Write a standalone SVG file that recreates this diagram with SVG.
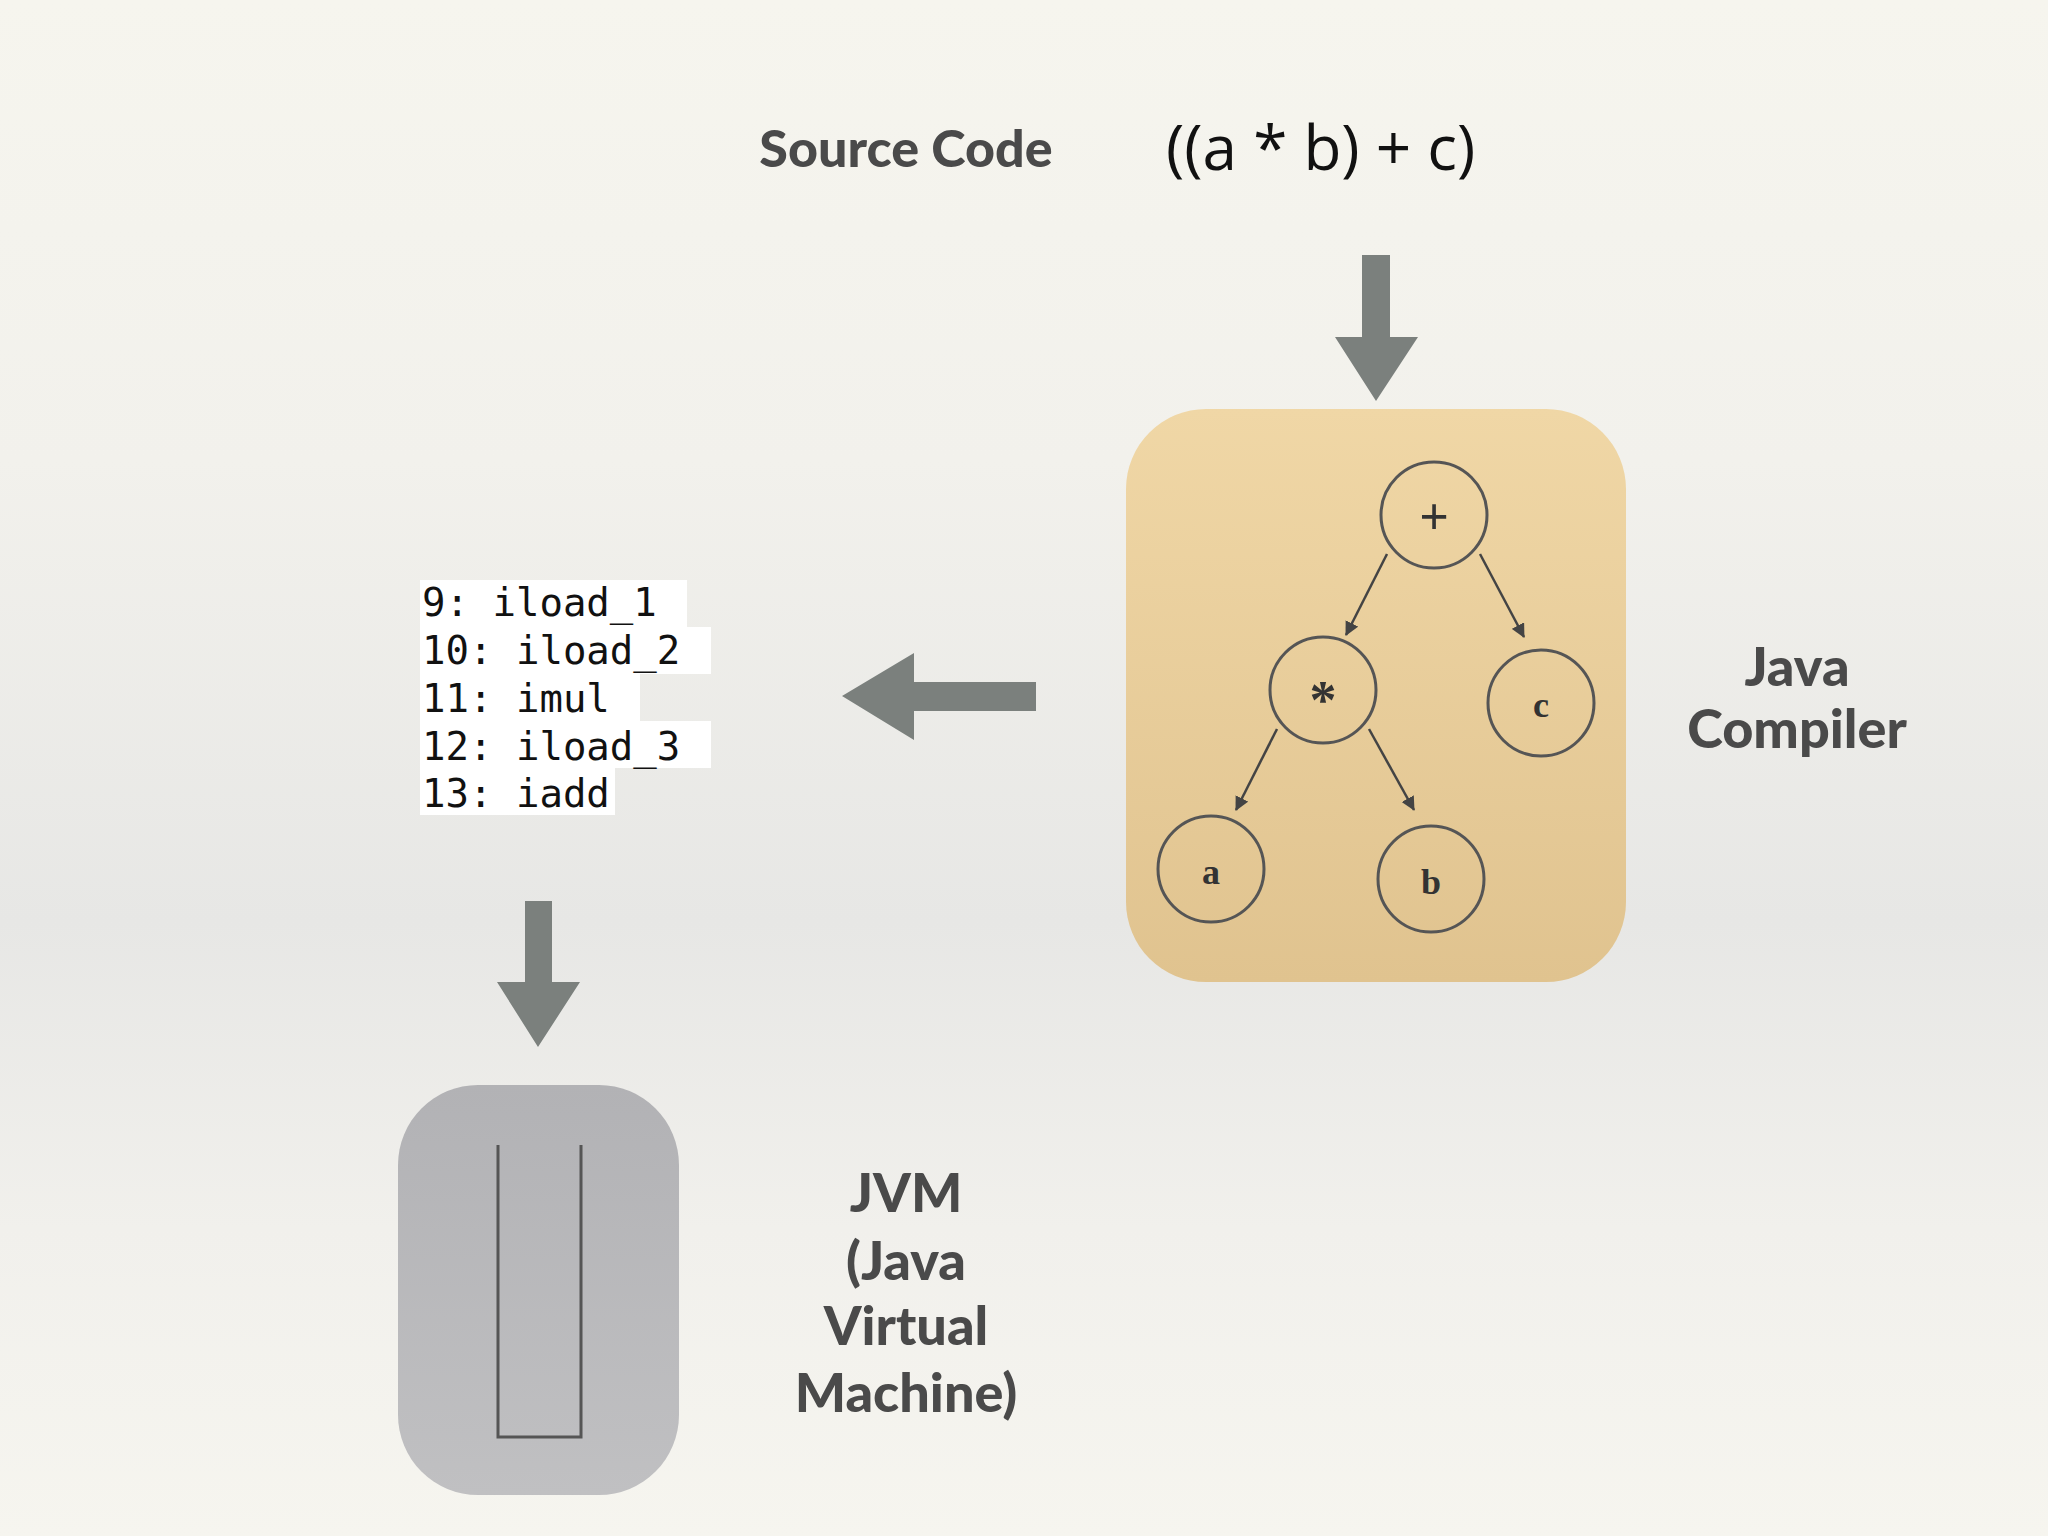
<svg xmlns="http://www.w3.org/2000/svg" width="2048" height="1536" viewBox="0 0 2048 1536">
<defs>
<linearGradient id="bg" x1="0" y1="0" x2="0" y2="1">
<stop offset="0" stop-color="#f6f5ee"/>
<stop offset="0.3" stop-color="#f2f1ec"/>
<stop offset="0.6" stop-color="#e7e7e5"/>
<stop offset="0.8" stop-color="#f1f0ec"/>
<stop offset="1" stop-color="#f6f5ef"/>
</linearGradient>
<linearGradient id="cg" x1="0" y1="0" x2="0" y2="1">
<stop offset="0" stop-color="#f0d7a6"/>
<stop offset="1" stop-color="#e0c38f"/>
</linearGradient>
<linearGradient id="jg" x1="0" y1="0" x2="0" y2="1">
<stop offset="0" stop-color="#b2b2b5"/>
<stop offset="1" stop-color="#c0c0c2"/>
</linearGradient>
<marker id="ah" markerWidth="14" markerHeight="14" refX="13" refY="7" orient="auto" markerUnits="userSpaceOnUse" viewBox="0 0 14 14">
<path d="M0,0 L14,7 L0,14 z" fill="#444"/>
</marker>
<style>
.lbl{font-family:"Lato","Open Sans",sans-serif;font-weight:900;fill:#4a4a4a;font-size:54px;text-anchor:middle}
.node circle{fill:none;stroke:#555;stroke-width:3}
.node text{font-family:"Liberation Serif",serif;font-weight:bold;fill:#333;text-anchor:middle}
.edge{stroke:#444;stroke-width:2.5;marker-end:url(#ah)}
.big{fill:#7b807d}
.code{font-family:"DejaVu Sans Mono",monospace;font-size:39px;fill:#111}
</style>
</defs>
<rect width="2048" height="1536" fill="url(#bg)"/>
<g id="source">
<text x="906" y="167" class="lbl" style="font-size:52px">Source Code</text>
<text x="1166" y="170" font-family="Open Sans,sans-serif" font-size="62" fill="#111">((a * b) + c)</text>
</g>
<g id="compiler">
<rect x="1126" y="409" width="500" height="573" rx="80" fill="url(#cg)"/>
<g class="node"><circle cx="1434" cy="515" r="53"/><text x="1434" y="534" font-size="52" font-weight="normal">+</text></g>
<g class="node"><circle cx="1323" cy="690" r="53"/><text x="1323" y="718" font-size="54">*</text></g>
<g class="node"><circle cx="1541" cy="703" r="53"/><text x="1541" y="717" font-size="36">c</text></g>
<g class="node"><circle cx="1211" cy="869" r="53"/><text x="1211" y="884" font-size="36">a</text></g>
<g class="node"><circle cx="1431" cy="879" r="53"/><text x="1431" y="894" font-size="36">b</text></g>
<text x="1797" y="686" class="lbl">Java</text>
<text x="1797" y="748" class="lbl">Compiler</text>
</g>
<g id="bytecode">
<rect x="420" y="580" width="267" height="47" fill="#fff"/>
<rect x="420" y="627" width="291" height="47" fill="#fff"/>
<rect x="420" y="674" width="220" height="47" fill="#fff"/>
<rect x="420" y="721" width="291" height="47" fill="#fff"/>
<rect x="420" y="768" width="195" height="47" fill="#fff"/>
<text class="code" x="422" y="616">9: iload_1</text>
<text class="code" x="422" y="664">10: iload_2</text>
<text class="code" x="422" y="712">11: imul</text>
<text class="code" x="422" y="760">12: iload_3</text>
<text class="code" x="422" y="807">13: iadd</text>
</g>
<g id="jvm">
<rect x="398" y="1085" width="281" height="410" rx="80" fill="url(#jg)"/>
<path d="M498,1145 V1437 H581 V1145" fill="none" stroke="#555" stroke-width="3"/>
<text x="906" y="1212" class="lbl">JVM</text>
<text x="906" y="1280" class="lbl">(Java</text>
<text x="906" y="1345" class="lbl">Virtual</text>
<text x="906" y="1412" class="lbl">Machine)</text>
</g>
<g id="connectors">
<path class="big" d="M1362,255 H1390 V337 H1418 L1376,401 L1335,337 H1362 Z"/>
<path class="big" d="M1036,682 V711 H914 V740 L842,696 L914,653 V682 Z"/>
<path class="big" d="M525,901 H552 V982 H580 L538,1047 L497,982 H525 Z"/>
<line class="edge" x1="1387" y1="554" x2="1346" y2="635"/>
<line class="edge" x1="1480" y1="554" x2="1524" y2="637"/>
<line class="edge" x1="1277" y1="729" x2="1236" y2="810"/>
<line class="edge" x1="1369" y1="729" x2="1414" y2="810"/>
</g>
</svg>
